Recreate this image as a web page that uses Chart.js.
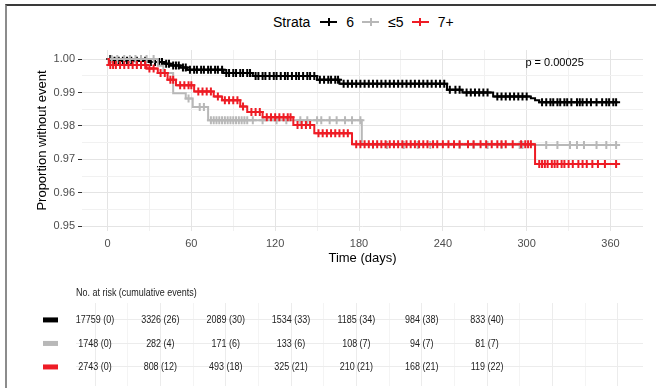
<!DOCTYPE html>
<html>
<head>
<meta charset="utf-8">
<script src="https://cdn.jsdelivr.net/npm/chart.js@4"></script>
<style>
  body { margin: 0; width: 656px; height: 388px; background: #fff; overflow: hidden; position: relative; font-family: "Liberation Sans", Arial, sans-serif; }
  #frame { position: absolute; left: 5px; top: 4px; right: 0; bottom: 0; border-top: 2px solid #3a3a3a; border-left: 2px solid #8c8c8c; }
  #legend { position: absolute; left: 273px; top: 13px; height: 18px; display: flex; align-items: center; font-size: 14px; color: #000; }
  .key { position: relative; width: 17px; height: 14px; margin-right: 9px; }
  .key .h { position: absolute; left: 0; right: 0; top: 6px; height: 2px; }
  .key .v { position: absolute; left: 7.5px; width: 2px; top: 3px; height: 8px; }
  canvas { position: absolute; left: 0; }
</style>
</head>
<body>
<div id="frame"></div>
<div id="legend"><span style="margin-right:10px">Strata</span></div>
<canvas id="km" width="656" height="270" style="top:0"></canvas>
<canvas id="risk" width="656" height="118" style="top:270px"></canvas>
<script>
// axis ticks
const xMajor = [0, 60, 120, 180, 240, 300, 360];
const xMinor = [30, 90, 150, 210, 270, 330];
const yMajor = [0.95, 0.96, 0.97, 0.98, 0.99, 1.00];
const yMinor = [0.955, 0.965, 0.975, 0.985, 0.995];

const strata = ['6', '≤5', '7+'];
const colors = ['#000000', '#b8b8b8', '#ee1c25'];

// Kaplan-Meier steps (day, proportion without event)
const time6 = [0, 3, 30, 40, 45, 52, 57, 83, 104, 150, 166, 243, 254, 276, 303, 306, 309, 365];
const surv6 = [1.0, 0.9995, 0.9991, 0.9986, 0.9981, 0.9975, 0.9968, 0.9958, 0.9949, 0.9938, 0.9926, 0.9908, 0.9900, 0.9888, 0.9883, 0.9877, 0.9871, 0.9871];
const time5 = [0, 36, 40, 47, 56, 61, 72, 182, 365];
const surv5 = [1.0, 0.9980, 0.9958, 0.9898, 0.9882, 0.9857, 0.9817, 0.9743, 0.9743];
const time7 = [0, 1, 28, 36, 43, 49, 62, 76, 82, 95, 100, 111, 133, 148, 175, 306, 365];
const surv7 = [1.0, 0.9982, 0.9972, 0.9958, 0.9938, 0.9922, 0.9903, 0.9888, 0.9877, 0.9858, 0.9842, 0.9826, 0.9803, 0.9778, 0.9745, 0.9686, 0.9686];

// censoring times
const cens6 = [2, 5, 8, 11, 14, 17, 21, 24, 27, 31, 34, 37, 39, 42, 44, 47, 49, 51, 54, 56, 59, 62, 64, 67, 69, 72, 74, 77, 79, 82, 85, 87, 90, 92, 95, 97, 100, 102, 106, 108, 111, 113, 116, 119, 121, 124, 127, 129, 132, 135, 137, 140, 143, 145, 148, 152, 155, 158, 160, 163, 165, 169, 172, 175, 178, 181, 184, 187, 190, 193, 196, 199, 202, 205, 208, 211, 214, 217, 220, 223, 226, 229, 232, 235, 238, 241, 245, 249, 252, 257, 260, 263, 266, 269, 272, 279, 282, 285, 288, 291, 294, 297, 300, 311, 314, 317, 319, 322, 324, 327, 329, 332, 336, 338, 340, 343, 346, 350, 354, 357, 359, 362, 364];
const cens5 = [3, 7, 12, 16, 20, 24, 28, 33, 58, 66, 69, 74, 76, 78, 80, 82, 84, 86, 88, 90, 92, 94, 96, 98, 100, 104, 111, 121, 128, 138, 143, 150, 153, 159, 164, 170, 175, 181, 190, 200, 212, 222, 231, 252, 262, 272, 282, 295, 297, 314, 322, 331, 336, 341, 350, 357, 364];
const cens7 = [2, 4, 6, 9, 12, 15, 18, 21, 24, 27, 30, 33, 38, 41, 45, 47, 52, 55, 58, 60, 65, 68, 71, 74, 79, 84, 87, 90, 93, 97, 103, 106, 109, 114, 117, 120, 123, 126, 129, 131, 136, 139, 142, 145, 151, 154, 157, 160, 163, 166, 169, 172, 178, 181, 184, 187, 190, 193, 196, 199, 202, 205, 208, 211, 214, 217, 220, 223, 226, 229, 233, 236, 240, 244, 248, 252, 258, 262, 267, 271, 275, 279, 282, 285, 290, 296, 299, 301, 303, 309, 311, 313, 315, 318, 320, 322, 325, 327, 330, 333, 337, 340, 343, 347, 351, 356, 364];

const pText = 'p = 0.00025';
const pDay = 320;
const pSurv = 0.99873;

// risk table
const riskTimes = [0, 60, 120, 180, 240, 300, 360];
const atRisk6 = [17759, 3326, 2089, 1534, 1185, 984, 833];
const events6 = [0, 26, 30, 33, 34, 38, 40];
const atRisk5 = [1748, 282, 171, 133, 108, 94, 81];
const events5 = [0, 4, 6, 6, 7, 7, 7];
const atRisk7 = [2743, 808, 493, 325, 210, 168, 119];
const events7 = [0, 12, 18, 21, 21, 21, 22];
const riskTitle = 'No. at risk (cumulative events)';

Chart.defaults.font.family = '"Liberation Sans", Arial, sans-serif';

// legend
const legendDiv = document.getElementById('legend');
strata.forEach((name, i) => {
    const key = document.createElement('div');
    key.className = 'key';
    key.innerHTML = `<div class="h" style="background:${colors[i]}"></div><div class="v" style="background:${colors[i]}"></div>`;
    const label = document.createElement('span');
    label.textContent = name;
    label.style.marginRight = '8px';
    legendDiv.appendChild(key);
    legendDiv.appendChild(label);
});

function survAt(times, surv, t) {
    let v = surv[0];
    for (let i = 0; i < times.length; i++) {
        if (times[i] <= t) v = surv[i];
    }
    return v;
}

const curves = [[time6, surv6, cens6], [time5, surv5, cens5], [time7, surv7, cens7]];
const datasets = [];
curves.forEach(([times, surv, cens], i) => {
    datasets.push({
        data: times.map((t, k) => ({ x: t, y: surv[k] })),
        borderColor: colors[i],
        borderWidth: 2,
        pointRadius: 0,
        stepped: 'before',
        fill: false,
        order: 3 - i
    });
    datasets.push({
        data: cens.map(t => ({ x: t, y: survAt(times, surv, t) })),
        showLine: false,
        pointStyle: 'cross',
        pointRadius: 4,
        pointBorderWidth: 2,
        pointBorderColor: colors[i],
        pointBackgroundColor: colors[i],
        order: 3 - i
    });
});

const isMajor = (list, v) => list.some(m => Math.abs(m - v) < 1e-9);

const pValuePlugin = {
    id: 'pValue',
    afterDatasetsDraw(chart) {
        const { ctx, scales } = chart;
        ctx.save();
        ctx.font = '11px "Liberation Sans", Arial, sans-serif';
        ctx.fillStyle = '#000';
        ctx.textAlign = 'center';
        ctx.textBaseline = 'middle';
        ctx.fillText(pText, scales.x.getPixelForValue(pDay), scales.y.getPixelForValue(pSurv));
        ctx.restore();
    }
};

new Chart(document.getElementById('km'), {
    type: 'line',
    data: { datasets: datasets },
    options: {
        responsive: false,
        animation: false,
        layout: { padding: { left: 31, top: 50, right: 13, bottom: 0 } },
        plugins: { legend: { display: false }, tooltip: { enabled: false } },
        scales: {
            x: {
                type: 'linear',
                min: -18.25,
                max: 383.25,
                afterBuildTicks: s => { s.ticks = xMajor.concat(xMinor).sort((a, b) => a - b).map(v => ({ value: v })); },
                afterFit: s => { s.height = 39; },
                ticks: {
                    autoSkip: false, maxRotation: 0, padding: 6, color: '#4d4d4d', font: { size: 11 },
                    callback: v => isMajor(xMajor, v) ? String(v) : ''
                },
                grid: {
                    drawTicks: false,
                    lineWidth: 1,
                    color: c => (c.tick && isMajor(xMajor, c.tick.value)) ? '#e4e4e4' : '#f1f1f1'
                },
                border: { display: false },
                title: { display: true, text: 'Time (days)', color: '#000', font: { size: 13 }, padding: { top: 4, bottom: 4 } }
            },
            y: {
                min: 0.9486,
                max: 1.0027,
                afterBuildTicks: s => { s.ticks = yMajor.concat(yMinor).sort((a, b) => a - b).map(v => ({ value: v })); },
                afterFit: s => { s.width = 51; },
                ticks: {
                    autoSkip: false, padding: 3, color: '#4d4d4d', font: { size: 11 },
                    callback: v => isMajor(yMajor, v) ? v.toFixed(2) : ''
                },
                grid: {
                    tickLength: 4,
                    lineWidth: 1,
                    color: c => (c.tick && isMajor(yMajor, c.tick.value)) ? '#e4e4e4' : '#f1f1f1',
                    tickColor: c => (c.tick && isMajor(yMajor, c.tick.value)) ? '#333333' : 'rgba(0,0,0,0)'
                },
                border: { display: false },
                title: { display: true, text: 'Proportion without event', color: '#000', font: { size: 13 }, padding: { top: 4, bottom: 4 } }
            }
        }
    },
    plugins: [pValuePlugin]
});

// risk table drawn through its own scales
const riskRows = [[atRisk6, events6], [atRisk5, events5], [atRisk7, events7]];
const tableMajor = [0, 60, 120, 180, 240, 300, 360, 420, 480];
const tableMinor = [30, 90, 150, 210, 270, 330, 390, 450];

const riskTablePlugin = {
    id: 'riskTable',
    afterDraw(chart) {
        const { ctx, scales, chartArea } = chart;
        const squeeze = 0.78;
        ctx.save();
        ctx.font = '11.5px "Liberation Sans", Arial, sans-serif';
        ctx.fillStyle = '#222';
        ctx.textBaseline = 'middle';
        // title
        ctx.save();
        ctx.translate(chartArea.left, 23);
        ctx.scale(squeeze, 1);
        ctx.textAlign = 'left';
        ctx.fillText(riskTitle, 0, 0);
        ctx.restore();
        riskRows.forEach(([n, e], r) => {
            const y = scales.y.getPixelForValue(r + 1);
            ctx.fillStyle = colors[r];
            ctx.fillRect(chartArea.left - 33, y - 2.5, 15, 5);
            ctx.fillStyle = '#222';
            riskTimes.forEach((t, k) => {
                ctx.save();
                ctx.translate(scales.x.getPixelForValue(t), y);
                ctx.scale(squeeze, 1);
                ctx.textAlign = 'center';
                ctx.fillText(`${n[k]} (${e[k]})`, 0, 0);
                ctx.restore();
            });
        });
        ctx.restore();
    }
};

new Chart(document.getElementById('risk'), {
    type: 'line',
    data: { datasets: [] },
    options: {
        responsive: false,
        animation: false,
        layout: { padding: { left: 76, top: 33, right: 13, bottom: 2 } },
        plugins: { legend: { display: false }, tooltip: { enabled: false } },
        scales: {
            x: {
                type: 'linear',
                min: -17.45,
                max: 503.2,
                afterBuildTicks: s => { s.ticks = tableMajor.concat(tableMinor).sort((a, b) => a - b).map(v => ({ value: v })); },
                afterFit: s => { s.height = 0; },
                ticks: { display: false },
                grid: { drawTicks: false, color: c => (c.tick && isMajor(tableMajor, c.tick.value)) ? '#ececec' : '#f4f4f4' },
                border: { display: false }
            },
            y: {
                type: 'linear',
                reverse: true,
                min: 0.28,
                max: 3.81,
                afterBuildTicks: s => { s.ticks = [1, 2, 3].map(v => ({ value: v })); },
                afterFit: s => { s.width = 0; },
                ticks: { display: false },
                grid: { drawTicks: false, color: '#ececec' },
                border: { display: false }
            }
        }
    },
    plugins: [riskTablePlugin]
});
</script>
</body>
</html>
